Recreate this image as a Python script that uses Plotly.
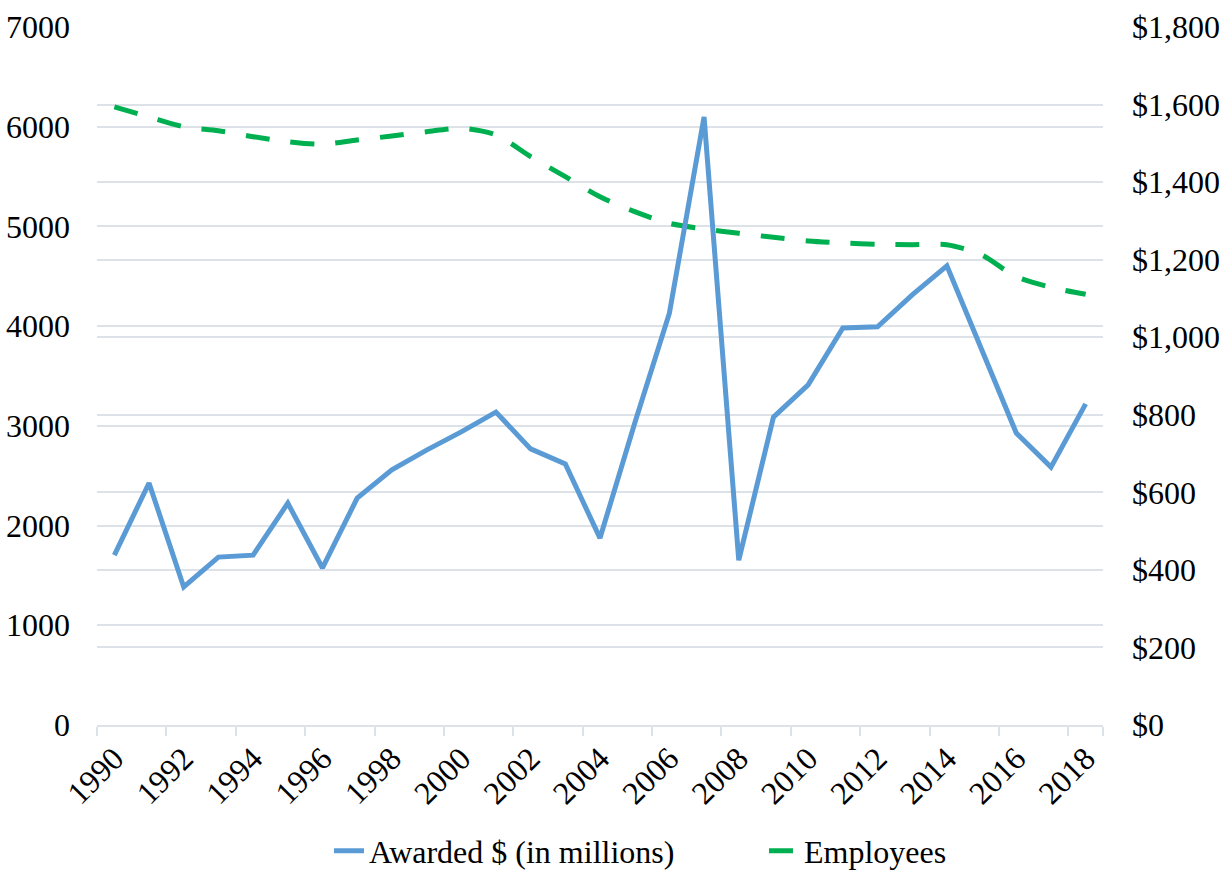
import plotly.graph_objects as go

years = [str(y) for y in range(1990, 2019)]

awarded_millions = [438, 624, 356, 433, 438, 572, 405, 585, 658, 709,
                    756, 807, 712, 673, 482, 778, 1062, 1568, 425, 794,
                    877, 1024, 1027, 1109, 1184, 972, 753, 665, 828]

employees = [6198, 6098, 6000, 5960, 5900, 5850, 5824, 5867, 5907, 5950,
             5984, 5917, 5700, 5499, 5298, 5148, 5031, 4974, 4931, 4891,
             4854, 4834, 4821, 4817, 4817, 4714, 4496, 4390, 4319]

label_years = years[::2]

FONT = "'Times New Roman', 'Liberation Serif', 'DejaVu Serif', serif"
GRID = "#dde1e8"
FS = 32

fig = go.Figure()
fig.add_trace(go.Scatter(
    x=years, y=awarded_millions, name="Awarded $ (in millions)",
    mode="lines", yaxis="y2", legendwidth=390,
    line=dict(color="#5b9bd5", width=5),
))
fig.add_trace(go.Scatter(
    x=years, y=employees, name="Employees",
    mode="lines", yaxis="y",
    line=dict(color="#00b050", width=5, dash="24px,21px", shape="spline", smoothing=0.8),
))

fig.update_layout(
    width=1229, height=874,
    margin=dict(l=97, r=126, t=27, b=149, autoexpand=False),
    paper_bgcolor="white", plot_bgcolor="white",
    font=dict(family=FONT, size=FS, color="black"),
    showlegend=True,
    legend=dict(orientation="h", x=0.2306, xanchor="left", y=-0.1805, yanchor="middle",
                font=dict(family=FONT, size=FS, color="black"),
                traceorder="normal"),
    xaxis=dict(
        type="category", categoryorder="array", categoryarray=years,
        tickmode="array", tickvals=label_years, ticktext=label_years,
        tickson="boundaries", ticks="outside", ticklen=9, tickcolor=GRID, tickwidth=2,
        tickangle=-45, showgrid=False, zeroline=False, automargin=False,
        showline=True, linecolor=GRID, linewidth=2,
        range=[-0.5, len(years) - 0.5],
    ),
    yaxis=dict(
        range=[0, 7000], tickmode="linear", tick0=0, dtick=1000, automargin=False,
        showgrid=True, gridcolor=GRID, gridwidth=2, zeroline=False,
        showline=False, ticks="", ticklabelstandoff=26,
    ),
    yaxis2=dict(
        range=[0, 1800], tickmode="linear", tick0=0, dtick=200, automargin=False,
        overlaying="y", side="right", tickprefix="$", tickformat=",",
        showgrid=True, gridcolor=GRID, gridwidth=2, zeroline=False,
        showline=False, ticks="", ticklabelstandoff=28,
    ),
)

fig.write_html("out.html")
